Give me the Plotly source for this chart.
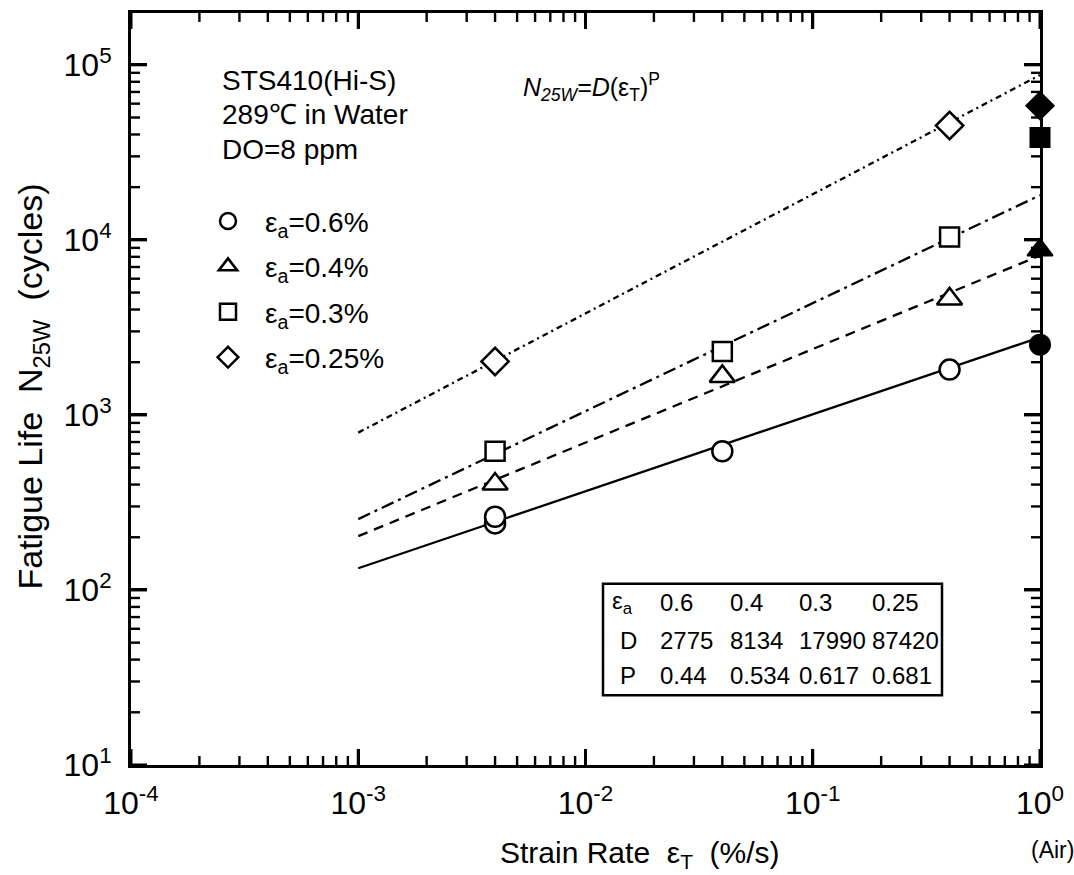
import math
import plotly.graph_objects as go

# ---------------- data ----------------
amp_labels = ["0.6", "0.4", "0.3", "0.25"]

# water tests (open markers): strain rate (%/s) and fatigue life N25W
water_x_06 = [0.004, 0.004, 0.04, 0.4]
water_n_06 = [240, 262, 620, 1815]
water_x_04 = [0.004, 0.04, 0.4]
water_n_04 = [403, 1660, 4600]
water_x_03 = [0.004, 0.04, 0.4]
water_n_03 = [620, 2300, 10370]
water_x_025 = [0.004, 0.4]
water_n_025 = [2020, 45000]

# air tests (filled markers, plotted at strain rate 1)
air_x = [1.0, 1.0, 1.0, 1.0]
air_n = [2520, 8750, 38400, 58400]

# fitted lines N25W = D * eps^P (end points)
fit_x = [0.001, 1.0]
fit_n_06 = [133, 2775]
fit_n_04 = [203, 8134]
fit_n_03 = [254, 17990]
fit_n_025 = [792, 87420]

# table values
table_D = ["2775", "8134", "17990", "87420"]
table_P = ["0.44", "0.534", "0.617", "0.681"]

x_tickvals = [1e-4, 1e-3, 1e-2, 1e-1, 1]
x_ticktext = ["10<sup>-4</sup>", "10<sup>-3</sup>", "10<sup>-2</sup>", "10<sup>-1</sup>", "10<sup>0</sup>"]
y_tickvals = [1e1, 1e2, 1e3, 1e4, 1e5]
y_ticktext = ["10<sup>1</sup>", "10<sup>2</sup>", "10<sup>3</sup>", "10<sup>4</sup>", "10<sup>5</sup>"]

# ---------------- figure ----------------
FONT = "Liberation Sans, Arial, sans-serif"
W, H = 1074, 875
L, R, T, B = 131, 34, 10, 110
PW, PH = W - L - R, H - T - B
XR = [-4, 0]
YR = [1, 5.296]

# minor tick positions (2..9 within each decade), as paper fractions
x_minor = [m * 10.0 ** k for k in range(XR[0], XR[1]) for m in range(2, 10)]
y_minor = [m * 10.0 ** k for k in range(1, 6) for m in range(2, 10)
           if math.log10(m * 10.0 ** k) < YR[1]]
x_minor_p = [(math.log10(v) - XR[0]) / (XR[1] - XR[0]) for v in x_minor]
y_minor_p = [(math.log10(v) - YR[0]) / (YR[1] - YR[0]) for v in y_minor]
x_major_p = [(math.log10(v) - XR[0]) / (XR[1] - XR[0]) for v in x_tickvals]
y_major_p = [(math.log10(v) - YR[0]) / (YR[1] - YR[0]) for v in y_tickvals]


def px(xp):
    return (xp - L) / PW


def py(yp):
    return (H - B - yp) / PH


fig = go.Figure()

series = [
    (water_x_06, water_n_06, fit_n_06, "circle", 20, "solid", amp_labels[0]),
    (water_x_04, water_n_04, fit_n_04, "triangle-up", 22, "10px,7px", amp_labels[1]),
    (water_x_03, water_n_03, fit_n_03, "square", 19, "13px,5px,3px,5px", amp_labels[2]),
    (water_x_025, water_n_025, fit_n_025, "diamond", 21, "6px,4px,2px,4px", amp_labels[3]),
]

# fit lines first
for xs, ns, fn, sym, size, dash, lab in series:
    fig.add_trace(go.Scatter(
        x=fit_x, y=fn, mode="lines",
        line=dict(color="black", width=2.3, dash=dash),
        showlegend=False, hoverinfo="skip"))

# open markers (water)
for i, (xs, ns, fn, sym, size, dash, lab) in enumerate(series):
    fig.add_trace(go.Scatter(
        x=xs, y=ns, mode="markers",
        marker=dict(symbol=sym, size=size, color="white",
                    line=dict(color="black", width=2.5)),
        name="\u03b5<sub>a</sub>=" + lab + "%",
        legendgroup="g%d" % i, showlegend=True, cliponaxis=False))

# filled markers (air)
for i, (xs, ns, fn, sym, size, dash, lab) in enumerate(series):
    fig.add_trace(go.Scatter(
        x=[air_x[i]], y=[air_n[i]], mode="markers",
        marker=dict(symbol=sym, size=size, color="black",
                    line=dict(color="black", width=2)),
        showlegend=False, cliponaxis=False))

axis_common = dict(
    type="log", showline=True, linecolor="black", linewidth=3,
    mirror="allticks", ticks="inside", ticklen=16, tickwidth=3,
    tickcolor="black", showgrid=False, zeroline=False,
    tickfont=dict(family=FONT, size=32, color="black"),
)

fig.update_layout(
    width=W, height=H,
    margin=dict(l=L, r=R, t=T, b=B),
    paper_bgcolor="white", plot_bgcolor="white",
    font=dict(family=FONT, color="black"),
    xaxis=dict(axis_common, range=XR, tickvals=x_tickvals, ticktext=x_ticktext,
               ticklabelstandoff=8),
    yaxis=dict(axis_common, range=YR, tickvals=y_tickvals, ticktext=y_ticktext,
               ticklabelstandoff=10),
    legend=dict(x=px(191), y=py(194), xanchor="left", yanchor="top",
                bgcolor="rgba(0,0,0,0)", borderwidth=0, itemwidth=64,
                font=dict(family=FONT, size=28, color="black"),
                traceorder="grouped", tracegroupgap=6),
    showlegend=True,
)

# ticks drawn as shapes as well (inside, on all four sides)
shapes = []


def add_ticks(xs_p, ys_p, ln, wd):
    st = dict(color="black", width=wd)
    for v in xs_p:
        shapes.append(dict(type="line", xref="paper", yref="paper", x0=v, x1=v,
                           y0=0, y1=ln / PH, line=st, layer="above"))
        shapes.append(dict(type="line", xref="paper", yref="paper", x0=v, x1=v,
                           y0=1, y1=1 - ln / PH, line=st, layer="above"))
    for v in ys_p:
        shapes.append(dict(type="line", xref="paper", yref="paper", y0=v, y1=v,
                           x0=0, x1=ln / PW, line=st, layer="above"))
        shapes.append(dict(type="line", xref="paper", yref="paper", y0=v, y1=v,
                           x0=1, x1=1 - ln / PW, line=st, layer="above"))


add_ticks(x_minor_p, y_minor_p, 9, 2.4)
add_ticks(x_major_p, y_major_p, 16, 3)

# table frame
shapes.append(dict(type="rect", xref="paper", yref="paper",
                   x0=px(603), x1=px(942), y0=py(695), y1=py(583),
                   line=dict(color="black", width=2.5), fillcolor="rgba(0,0,0,0)"))

ann = []
# header text
for txt, yp in [("STS410(Hi-S)", 78), ("289\u2103 in Water", 112), ("DO=8 ppm", 147)]:
    ann.append(dict(text=txt, x=px(220), y=py(yp), xref="paper", yref="paper",
                    xanchor="left", yanchor="middle", showarrow=False,
                    font=dict(family=FONT, size=28, color="black")))
# equation
ann.append(dict(text="<i>N</i><sub><i>25W</i></sub><i>=D</i>(\u03b5<sub>T</sub>)<sup>P</sup>",
                x=px(521), y=py(84), xref="paper", yref="paper",
                xanchor="left", yanchor="middle", showarrow=False,
                font=dict(family=FONT, size=25, color="black")))
# axis titles
ann.append(dict(text="Strain Rate\u00a0\u00a0\u03b5<sub>T</sub>\u00a0\u00a0(%/s)",
                x=px(640), y=py(855), xref="paper", yref="paper",
                xanchor="center", yanchor="middle", showarrow=False,
                font=dict(family=FONT, size=30, color="black")))
ann.append(dict(text="Fatigue Life\u00a0\u00a0N<sub>25W</sub>\u00a0\u00a0(cycles)",
                x=px(33), y=py(385), xref="paper", yref="paper", textangle=-90,
                xanchor="center", yanchor="middle", showarrow=False,
                font=dict(family=FONT, size=34, color="black")))
ann.append(dict(text="(Air)", x=px(1052), y=py(850), xref="paper", yref="paper",
                xanchor="center", yanchor="middle", showarrow=False,
                font=dict(family=FONT, size=23, color="black")))

# table
col_left = [658, 728, 797, 870]
row_y = [602, 640, 675]
tfont = dict(family=FONT, size=24, color="black")
row_labels = ["\u03b5<sub>a</sub>", "D", "P"]
row_label_x = [610, 618, 618]
rows = [amp_labels, table_D, table_P]
for r in range(3):
    ann.append(dict(text=row_labels[r], x=px(row_label_x[r]), y=py(row_y[r]),
                    xref="paper", yref="paper", xanchor="left", yanchor="middle",
                    showarrow=False, font=tfont))
    for c in range(4):
        ann.append(dict(text=rows[r][c], x=px(col_left[c]), y=py(row_y[r]),
                        xref="paper", yref="paper", xanchor="left", yanchor="middle",
                        showarrow=False, font=tfont))

fig.update_layout(annotations=ann, shapes=shapes)

fig.write_html("out.html")
